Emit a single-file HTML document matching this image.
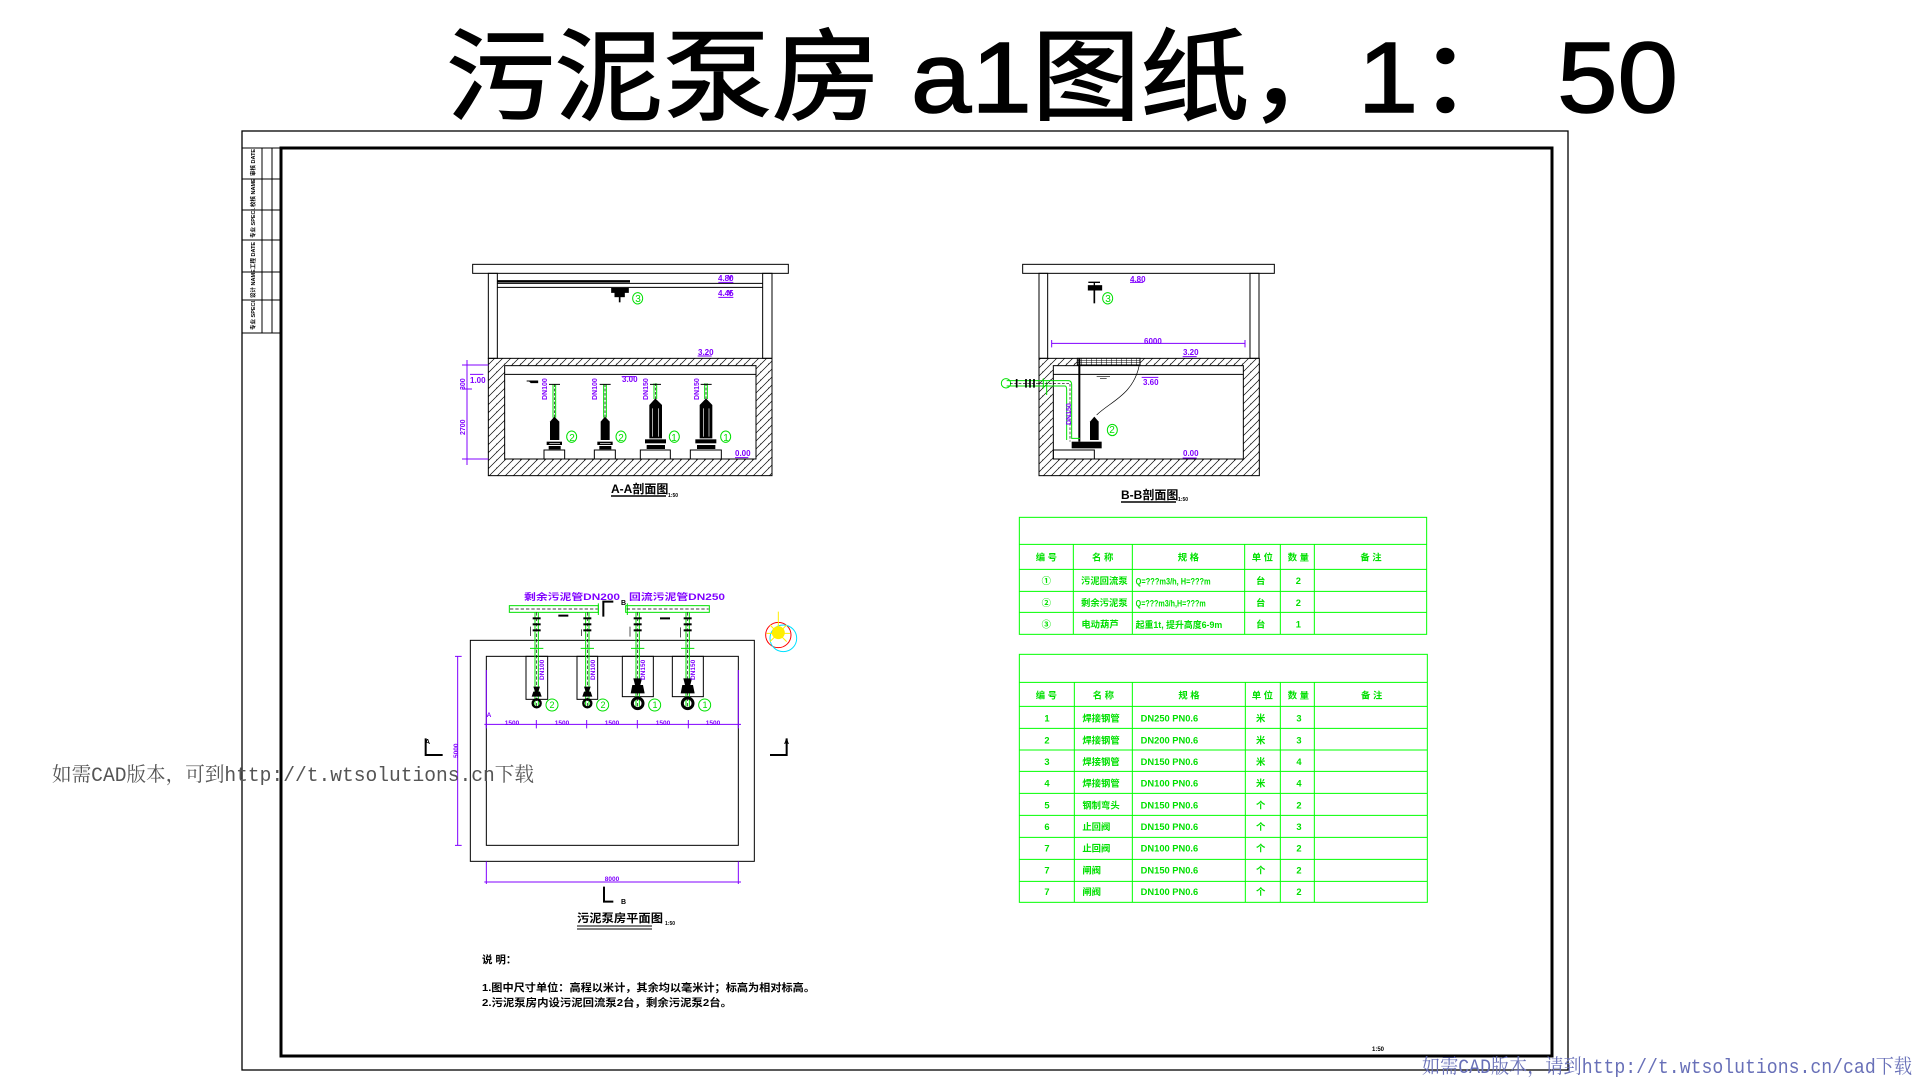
<!DOCTYPE html>
<html><head><meta charset="utf-8"><style>
html,body{margin:0;padding:0;background:#fff;width:1920px;height:1080px;overflow:hidden}
svg{display:block}
text{font-family:"Liberation Sans","Noto Sans CJK SC",sans-serif}
.p{fill:#8000ff;font-weight:bold}
.g{fill:#00e000;font-weight:bold}
.k{fill:#000;font-weight:bold}
</style></head><body>
<svg width="1920" height="1080" viewBox="0 0 1920 1080" xmlns="http://www.w3.org/2000/svg">
<defs>
<pattern id="h" patternUnits="userSpaceOnUse" width="24" height="24">
<path d="M-6,30 L30,-6 M-6,6 L6,-6 M18,30 L30,18" stroke="#000" stroke-width="2"/>
<circle cx="8" cy="15" r="1.5" fill="#000"/>
</pattern>
</defs>

<text x="446" y="112" font-size="100" textLength="1232" lengthAdjust="spacingAndGlyphs" fill="#000" stroke="#000" stroke-width="1.5">污泥泵房 a1图纸，1： 50</text>

<rect x="242" y="131" width="1326" height="939" fill="none" stroke="#000" stroke-width="1.3"/>
<rect x="281" y="148" width="1271" height="908" fill="none" stroke="#000" stroke-width="3"/>
<g stroke="#000" stroke-width="1" fill="none">
<line x1="262" y1="148" x2="262" y2="333"/><line x1="272" y1="148" x2="272" y2="333"/>
<line x1="242" y1="148" x2="281" y2="148"/><line x1="242" y1="179" x2="281" y2="179"/>
<line x1="242" y1="210" x2="281" y2="210"/><line x1="242" y1="240" x2="281" y2="240"/>
<line x1="242" y1="272" x2="281" y2="272"/><line x1="242" y1="300" x2="281" y2="300"/>
<line x1="242" y1="333" x2="281" y2="333"/>
</g>
<g font-size="5.5" class="k">
<text transform="translate(255,176) rotate(-90)">审核 DATE</text>
<text transform="translate(255,207) rotate(-90)">校核 NAME</text>
<text transform="translate(255,238) rotate(-90)">专业 SPECI.</text>
<text transform="translate(255,269) rotate(-90)">工程 DATE</text>
<text transform="translate(255,298) rotate(-90)">设计 NAME</text>
<text transform="translate(255,330) rotate(-90)">专业 SPECI.</text>
</g>

<g transform="translate(470,255) scale(0.33333)" stroke-width="3" fill="none" stroke="#000">
<rect x="8" y="28" width="947" height="27"/>
<rect x="55" y="55" width="27" height="255"/>
<rect x="878" y="55" width="28" height="255"/>
<line x1="82" y1="79" x2="480" y2="79" stroke-width="7"/>
<line x1="82" y1="85" x2="878" y2="85"/>
<line x1="82" y1="97" x2="878" y2="97"/>
<rect x="55" y="310" width="851" height="352" fill="url(#h)"/>
<rect x="104" y="332" width="754" height="280" fill="#fff"/>
<line x1="104" y1="358" x2="858" y2="358"/>
<path d="M425,100 h50 v12 h-50z" fill="#000"/>
<rect x="435" y="110" width="28" height="15" fill="#000"/>
<line x1="449" y1="125" x2="449" y2="142" stroke-width="5"/>
<rect x="222" y="585" width="62" height="27"/><rect x="373" y="585" width="63" height="27"/>
<rect x="511" y="585" width="90" height="27"/><rect x="661" y="585" width="93" height="27"/>
<g fill="#000" stroke="none">
<path d="M240,500 l13,-15 l15,15 v55 h-28z"/><rect x="230" y="560" width="46" height="10"/><rect x="236" y="573" width="36" height="10"/>
<path d="M392,500 l13,-15 l14,15 v55 h-27z"/><rect x="382" y="560" width="46" height="10"/><rect x="388" y="573" width="36" height="10"/>
<path d="M538,450 l18,-20 l20,20 v100 h-38z"/><rect x="525" y="553" width="63" height="12"/><rect x="530" y="570" width="55" height="12"/>
<path d="M689,450 l19,-20 l19,20 v100 h-38z"/><rect x="676" y="553" width="63" height="12"/><rect x="681" y="570" width="55" height="12"/>
</g>
<g stroke="#fff" stroke-width="2"><line x1="548" y1="460" x2="548" y2="545"/><line x1="565" y1="460" x2="565" y2="545"/><line x1="700" y1="460" x2="700" y2="545"/><line x1="717" y1="460" x2="717" y2="545"/><line x1="238" y1="565" x2="270" y2="565"/><line x1="390" y1="565" x2="422" y2="565"/></g>
<g stroke="#00e000"><path d="M249,388 V488 M257,388 V488 M401,388 V488 M409,388 V488 M552,385 V432 M560,385 V432 M704,385 V432 M712,385 V432"/></g>
<g stroke-dasharray="8,5" stroke-width="2"><path d="M253,388 V488 M405,388 V488 M556,385 V432 M708,385 V432"/></g>
<path d="M237,388 h33 M389,388 h33 M540,388 h33 M692,388 h33 M170,378 h30"/>
<path d="M178,378 h25 v5 h-20z" fill="#000"/>
<g stroke="#00e000"><ellipse cx="305" cy="545" rx="15" ry="17"/><ellipse cx="453" cy="545" rx="15" ry="17"/><ellipse cx="613" cy="545" rx="15" ry="17"/><ellipse cx="767" cy="545" rx="15" ry="17"/><ellipse cx="503" cy="130" rx="15" ry="17"/></g>
<g stroke="#8000ff"><path d="M0,330 H55 M0,612 H55 M0,358 H40 M745,82 H790 M745,127 H790 M683,303 H725 M455,365 H495 M795,608 H835 M775,60 l5,15 l5,-15 M775,105 l5,15 l5,-15"/></g>
</g>
<g font-size="8" class="p">
<text x="718" y="281">4.80</text><text x="718" y="296">4.45</text><text x="698" y="355">3.20</text>
<text x="622" y="382">3.00</text><text x="735" y="456">0.00</text><text x="470" y="383">1.00</text>
</g>
<g font-size="7" class="p">
<text transform="translate(547,400) rotate(-90)">DN100</text><text transform="translate(597,400) rotate(-90)">DN100</text>
<text transform="translate(648,400) rotate(-90)">DN150</text><text transform="translate(699,400) rotate(-90)">DN150</text>
</g>
<g font-size="10" fill="#00e000" text-anchor="middle">
<text x="572" y="441">2</text><text x="621" y="441">2</text><text x="674" y="441">1</text><text x="726" y="441">1</text><text x="638" y="302">3</text>
</g>
<g stroke="#8000ff" stroke-width="1"><line x1="467" y1="360" x2="467" y2="465"/><line x1="462" y1="365" x2="472" y2="365"/><line x1="462" y1="389" x2="472" y2="389"/><line x1="462" y1="459" x2="472" y2="459"/></g>
<g font-size="7" class="p"><text transform="translate(465,390) rotate(-90)">300</text><text transform="translate(465,435) rotate(-90)">2700</text></g>
<text x="611" y="493" font-size="12" class="k">A-A剖面图</text>
<line x1="611" y1="496" x2="666" y2="496" stroke="#000" stroke-width="1.5"/>
<text x="668" y="497" font-size="5" class="k">1:50</text>

<g transform="translate(1000,255) scale(0.33333)" stroke-width="3" fill="none" stroke="#000">
<rect x="68" y="28" width="755" height="27"/>
<rect x="117" y="55" width="26" height="255"/>
<rect x="750" y="55" width="27" height="255"/>
<rect x="117" y="310" width="661" height="352" fill="url(#h)"/>
<rect x="160" y="332" width="570" height="280" fill="#fff"/>
<line x1="160" y1="358" x2="730" y2="358"/>
<rect x="232" y="310" width="188" height="20" fill="#fff"/>
<g stroke-width="1.5"><path d="M232,316 H420 M232,322 H420 M245,310 v20 M260,310 v20 M275,310 v20 M290,310 v20 M305,310 v20 M320,310 v20 M335,310 v20 M350,310 v20 M365,310 v20 M380,310 v20 M395,310 v20 M410,310 v20"/></g>
<path d="M418,330 C400,420 330,440 290,480" stroke-width="2"/>
<line x1="238" y1="310" x2="238" y2="560" stroke-width="6"/>
<rect x="160" y="585" width="123" height="27"/>
<path d="M265,82 h35 M283,82 v10" stroke-width="4"/>
<rect x="265" y="92" width="40" height="13" fill="#000"/>
<path d="M283,105 v40" stroke-width="5"/>
<path d="M270,500 l13,-15 l13,15 v55 h-26z" fill="#000" stroke="none"/>
<rect x="215" y="560" width="90" height="20" fill="#000" stroke="none"/>
<g stroke="#00e000"><path d="M20,377 H205 Q215,377 215,390 V550 H240 M20,393 H195 Q200,393 200,405 V555"/><ellipse cx="18" cy="385" rx="14" ry="14"/><path d="M130,370 v30 M140,380 v40"/></g>
<path d="M30,385 H210 V560" stroke-dasharray="8,5" stroke-width="2"/>
<path d="M50,372 v26 M78,372 v26 M90,372 v26 M102,372 v26" stroke-width="5"/>
<path d="M290,365 h40 M300,370 h20" stroke-width="2"/>
<g stroke="#00e000"><ellipse cx="337" cy="525" rx="15" ry="17"/><ellipse cx="323" cy="130" rx="15" ry="17"/></g>
<g stroke="#8000ff"><path d="M155,265 H735 M155,255 v22 M735,255 v22 M390,82 H430 M548,305 H590 M425,367 H475 M548,609 H590"/></g>
</g>
<g font-size="8" class="p">
<text x="1130" y="282">4.80</text><text x="1144" y="344">6000</text><text x="1183" y="355">3.20</text>
<text x="1143" y="385">3.60</text><text x="1183" y="456">0.00</text>
</g>
<text transform="translate(1071,425) rotate(-90)" font-size="7" class="p">DN150</text>
<g font-size="10" fill="#00e000" text-anchor="middle"><text x="1112" y="433">2</text><text x="1108" y="302">3</text></g>
<text x="1121" y="499" font-size="12" class="k">B-B剖面图</text>
<line x1="1121" y1="502" x2="1176" y2="502" stroke="#000" stroke-width="1.5"/>
<text x="1178" y="501" font-size="5" class="k">1:50</text>

<g transform="translate(1010,510) scale(0.33333)">
<g stroke="#00ff00" stroke-width="3" fill="none">
<rect x="28" y="22" width="1222" height="351"/>
<path d="M28,103 H1250 M28,178 H1250 M28,244 H1250 M28,307 H1250 M190,103 V373 M367,103 V373 M704,103 V373 M811,103 V373 M913,103 V373"/>
<rect x="28" y="433" width="1224" height="744"/>
<path d="M28,517 H1252 M28,589 H1252 M28,655 H1252 M28,720 H1252 M28,784 H1252 M28,850 H1252 M28,916 H1252 M28,982 H1252 M28,1048 H1252 M28,1114 H1252 M193,517 V1177 M367,517 V1177 M706,517 V1177 M811,517 V1177 M913,517 V1177"/>
</g>
<g font-size="28" class="g" text-anchor="middle">
<text x="109" y="152">编  号</text><text x="278" y="152">名  称</text><text x="535" y="152">规  格</text><text x="757" y="152">单 位</text><text x="865" y="152">数 量</text><text x="1083" y="152">备  注</text>
<text x="109" y="222">①</text><text x="109" y="288">②</text><text x="109" y="352">③</text>
<text x="283" y="222">污泥回流泵</text><text x="283" y="288">剩余污泥泵</text><text x="270" y="352">电动葫芦</text>
<text x="752" y="222">台</text><text x="752" y="288">台</text><text x="752" y="352">台</text>
<text x="865" y="222">2</text><text x="865" y="288">2</text><text x="865" y="352">1</text>
<text x="109" y="566">编  号</text><text x="280" y="566">名  称</text><text x="537" y="566">规  格</text><text x="757" y="566">单 位</text><text x="865" y="566">数 量</text><text x="1085" y="566">备  注</text>
</g>
<g font-size="28" class="g" text-anchor="start">
<text x="377" y="224" textLength="225" lengthAdjust="spacingAndGlyphs">Q=???m3/h, H=???m</text>
<text x="377" y="290" textLength="210" lengthAdjust="spacingAndGlyphs">Q=???m3/h,H=???m</text>
<text x="377" y="354" textLength="260" lengthAdjust="spacingAndGlyphs">起重1t, 提升高度6-9m</text>
</g>
<g font-size="28" class="g">
<g text-anchor="middle">
<text x="111" y="635">1</text><text x="111" y="700">2</text><text x="111" y="765">3</text><text x="111" y="830">4</text><text x="111" y="895">5</text><text x="111" y="960">6</text><text x="111" y="1025">7</text><text x="111" y="1090">7</text><text x="111" y="1155">7</text>
<text x="752" y="635">米</text><text x="752" y="700">米</text><text x="752" y="765">米</text><text x="752" y="830">米</text><text x="752" y="895">个</text><text x="752" y="960">个</text><text x="752" y="1025">个</text><text x="752" y="1090">个</text><text x="752" y="1155">个</text>
<text x="867" y="635">3</text><text x="867" y="700">3</text><text x="867" y="765">4</text><text x="867" y="830">4</text><text x="867" y="895">2</text><text x="867" y="960">3</text><text x="867" y="1025">2</text><text x="867" y="1090">2</text><text x="867" y="1155">2</text>
</g>
<text x="217" y="635">焊接钢管</text><text x="217" y="700">焊接钢管</text><text x="217" y="765">焊接钢管</text><text x="217" y="830">焊接钢管</text><text x="217" y="895">钢制弯头</text><text x="217" y="960">止回阀</text><text x="217" y="1025">止回阀</text><text x="217" y="1090">闸阀</text><text x="217" y="1155">闸阀</text>
<text x="392" y="635">DN250 PN0.6</text><text x="392" y="700">DN200 PN0.6</text><text x="392" y="765">DN150 PN0.6</text><text x="392" y="830">DN100 PN0.6</text><text x="392" y="895">DN150 PN0.6</text><text x="392" y="960">DN150 PN0.6</text><text x="392" y="1025">DN100 PN0.6</text><text x="392" y="1090">DN150 PN0.6</text><text x="392" y="1155">DN100 PN0.6</text>
</g>
</g>

<g transform="translate(420,570) scale(0.33333)" stroke-width="3" fill="none" stroke="#000">
<rect x="151" y="211" width="852" height="663"/>
<rect x="199" y="259" width="756" height="567"/>
<rect x="318" y="259" width="65" height="129"/><rect x="471" y="259" width="62" height="129"/>
<rect x="607" y="259" width="93" height="121"/><rect x="757" y="259" width="93" height="121"/>
<g stroke="#00e000"><rect x="268" y="107" width="267" height="20"/><rect x="617" y="107" width="251" height="20"/>
<path d="M345,127 V410 M355,127 V410 M497,127 V410 M507,127 V410 M648,127 V410 M658,127 V410 M798,127 V410 M808,127 V410"/>
<path d="M330,235 h40 M482,235 h40 M633,235 h40 M783,235 h40 M535,100 v35 M622,100 v35"/></g>
<path d="M270,117 H533 M620,117 H866 M350,127 V410 M502,127 V410 M653,127 V410 M803,127 V410" stroke-dasharray="10,6" stroke-width="2"/>
<path d="M415,137 h30 M720,145 h30 M550,140 V95 H580 M552,950 V995 H580 M17,505 V555 H68 M1050,555 H1100 V505" stroke-width="6"/>
<g fill="#000" stroke="none">
<rect x="338" y="142" width="24" height="6"/><rect x="338" y="160" width="24" height="6"/><rect x="338" y="178" width="24" height="6"/>
<rect x="490" y="142" width="24" height="6"/><rect x="490" y="160" width="24" height="6"/><rect x="490" y="178" width="24" height="6"/>
<rect x="641" y="142" width="24" height="6"/><rect x="641" y="160" width="24" height="6"/><rect x="641" y="178" width="24" height="6"/>
<rect x="791" y="142" width="24" height="6"/><rect x="791" y="160" width="24" height="6"/><rect x="791" y="178" width="24" height="6"/>
<path d="M340,350 h20 l-5,15 h5 l5,15 h-30 l5,-15 h5z"/><path d="M492,350 h20 l-5,15 h5 l5,15 h-30 l5,-15 h5z"/>
<path d="M640,325 h26 l-5,20 h8 l5,25 h-42 l5,-25 h8z"/><path d="M790,325 h26 l-5,20 h8 l5,25 h-42 l5,-25 h8z"/>
</g>
<path d="M332,170 v28 M484,178 v20 M630,170 v30 M782,172 v30" stroke-width="2"/>
<circle cx="350" cy="400" r="12" stroke-width="7"/><circle cx="502" cy="400" r="12" stroke-width="7"/>
<circle cx="653" cy="400" r="16" stroke-width="9"/><circle cx="803" cy="400" r="16" stroke-width="9"/>
<g stroke="#00e000"><circle cx="396" cy="405" r="18"/><circle cx="548" cy="405" r="18"/><circle cx="704" cy="405" r="18"/><circle cx="854" cy="405" r="18"/></g>
<g stroke="#8000ff"><path d="M193,463 H963 M199,450 v25 M349,450 v25 M500,450 v25 M652,450 v25 M805,450 v25 M955,450 v25 M113,258 V826 M105,259 h20 M105,826 h20 M193,936 H963 M199,874 V942 M955,874 V942 M199,300 V460 M955,300 V460"/></g>
<g stroke-width="3"><circle cx="1075" cy="195" r="38" stroke="#ff0000"/><circle cx="1090" cy="205" r="40" stroke="#00e0ff"/><circle cx="1075" cy="188" r="18" stroke="#ffee00" fill="#ffee00"/><path d="M1075,125 v50 M1040,190 h70 M1050,165 l50,50 M1100,165 l-50,50" stroke="#ffee00"/></g>
</g>
<g class="p" font-size="9">
<text x="524" y="600" textLength="96" lengthAdjust="spacingAndGlyphs">剩余污泥管DN200</text>
<text x="629" y="600" textLength="96" lengthAdjust="spacingAndGlyphs">回流污泥管DN250</text>
</g>
<g class="p" font-size="6.5" text-anchor="middle">
<text x="512" y="725">1500</text><text x="562" y="725">1500</text><text x="612" y="725">1500</text><text x="663" y="725">1500</text><text x="713" y="725">1500</text><text x="612" y="881">8000</text>
<text x="489" y="717">A</text>
</g>
<g class="p" font-size="6.5"><text transform="translate(458,758) rotate(-90)">5000</text>
<text transform="translate(544,680) rotate(-90)">DN100</text><text transform="translate(595,680) rotate(-90)">DN100</text><text transform="translate(645,680) rotate(-90)">DN150</text><text transform="translate(695,680) rotate(-90)">DN150</text></g>
<g font-size="9" fill="#00e000" text-anchor="middle"><text x="552" y="708">2</text><text x="603" y="708">2</text><text x="655" y="708">1</text><text x="705" y="708">1</text></g>
<g class="k" font-size="7"><text x="621" y="605">B</text><text x="621" y="904">B</text><text x="425" y="744">A</text><text x="784" y="744">A</text></g>
<text x="577" y="922" font-size="11.5" class="k" textLength="86" lengthAdjust="spacingAndGlyphs">污泥泵房平面图</text>
<text x="665" y="925" font-size="5" class="k">1:50</text>
<line x1="577" y1="926" x2="652" y2="926" stroke="#000" stroke-width="1"/>
<line x1="577" y1="929" x2="652" y2="929" stroke="#000" stroke-width="1"/>

<g class="k">
<text x="482" y="963" font-size="10.5">说 明：</text>
<text x="482" y="991" font-size="10.5" textLength="333" lengthAdjust="spacingAndGlyphs">1.图中尺寸单位：高程以米计，其余均以毫米计；标高为相对标高。</text>
<text x="482" y="1006" font-size="10.5" textLength="250" lengthAdjust="spacingAndGlyphs">2.污泥泵房内设污泥回流泵2台，剩余污泥泵2台。</text>
<text x="1372" y="1051" font-size="6">1:50</text>
</g>

<text x="52" y="781" font-size="20" fill="#555" textLength="482" lengthAdjust="spacingAndGlyphs" style="font-family:'Liberation Mono','Noto Serif CJK SC',serif">如需CAD版本，可到http://t.wtsolutions.cn下载</text>
<text x="1422" y="1073" font-size="20" fill="#6870b8" textLength="490" lengthAdjust="spacingAndGlyphs" style="font-family:'Liberation Mono','Noto Serif CJK SC',serif">如需CAD版本，请到http://t.wtsolutions.cn/cad下载</text>
</svg>
</body></html>
